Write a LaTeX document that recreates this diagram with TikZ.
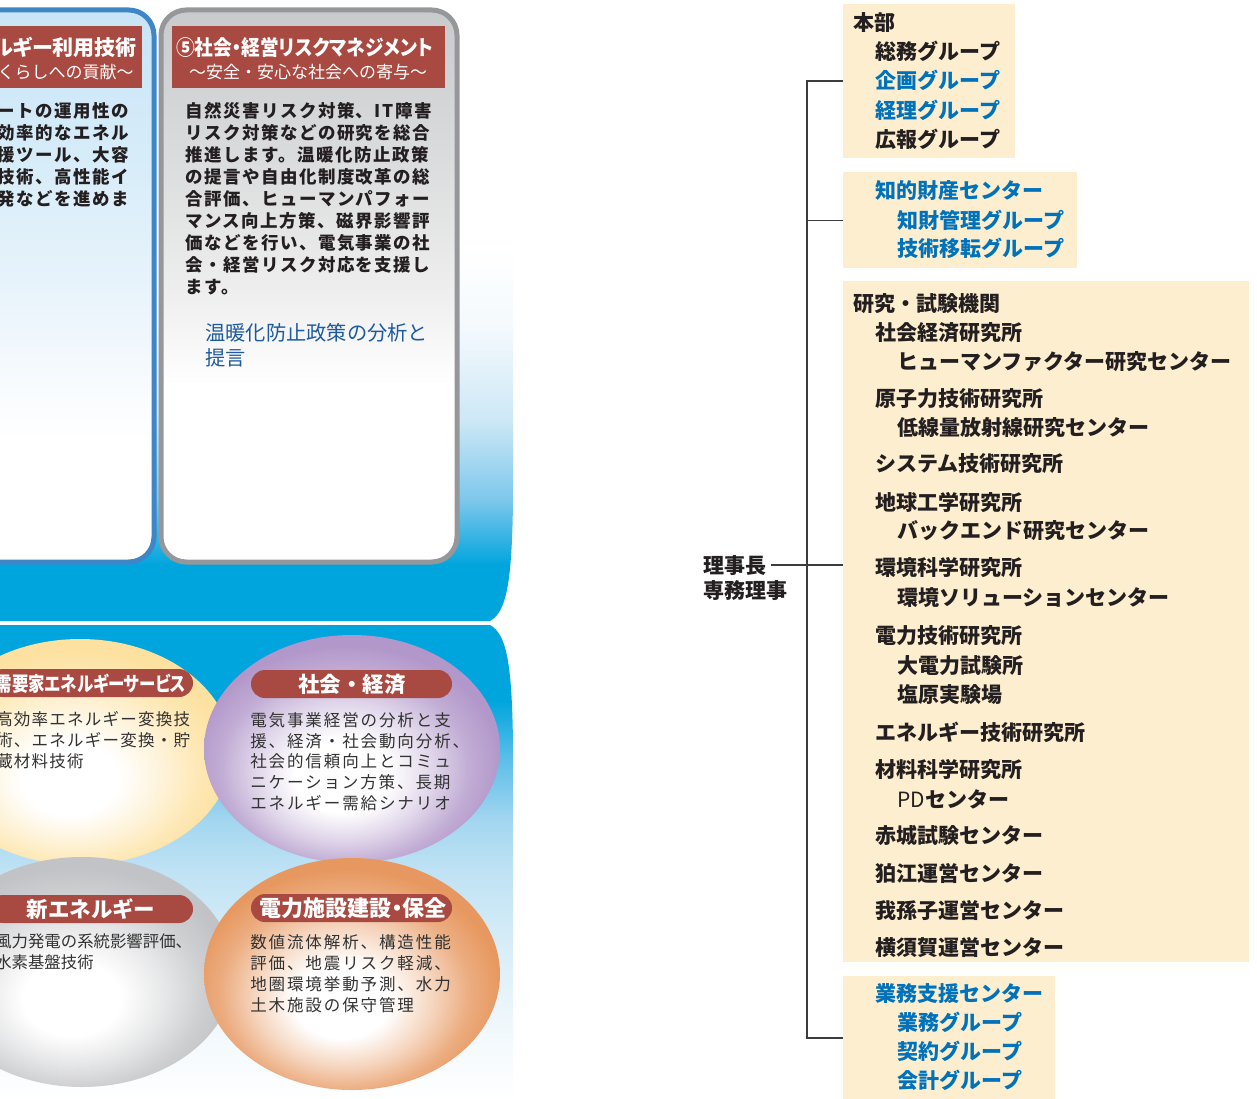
\documentclass[tikz,border=0pt]{standalone}
\usepackage{fontspec}
\newfontfamily\jp{Noto Sans CJK JP}
\newfontfamily\jpls{Noto Sans CJK JP}[LetterSpace=8.6]
\newfontfamily\jplsb{Noto Sans CJK JP}[LetterSpace=11.3]
\newfontfamily\jply{Noto Sans CJK JP}[LetterSpace=7.3]
\newfontfamily\jppalt{Noto Sans CJK JP}[RawFeature=+palt]
\newfontfamily\jpnarrow{Noto Sans CJK JP}[RawFeature=+palt,FakeStretch=0.89]
\newfontfamily\jpcond{Noto Sans CJK JP}[RawFeature=+palt,FakeStretch=0.82]

\definecolor{cyanb}{RGB}{0,165,221}
\definecolor{redband}{RGB}{168,74,65}
\definecolor{blueborder}{RGB}{62,134,197}
\definecolor{grayborder}{RGB}{150,151,154}
\definecolor{beige}{RGB}{253,238,207}
\definecolor{orgblue}{RGB}{0,114,188}
\definecolor{textdark}{RGB}{35,31,32}
\definecolor{bodytext}{RGB}{50,50,50}
\definecolor{bluetext}{RGB}{30,90,158}
\definecolor{purpedge}{RGB}{178,152,202}
\definecolor{yeledge}{RGB}{253,225,160}
\definecolor{grayedge}{RGB}{194,195,198}
\definecolor{oraedge}{RGB}{231,152,96}
\definecolor{connline}{RGB}{60,60,60}
\definecolor{ubA}{RGB}{124,199,236}
\definecolor{ubB}{RGB}{205,232,246}
\definecolor{ubC}{RGB}{243,249,253}
\definecolor{lbA}{RGB}{93,191,233}
\definecolor{lbB}{RGB}{163,214,240}
\definecolor{lbC}{RGB}{191,226,244}
\definecolor{lbD}{RGB}{217,238,248}
\definecolor{lbE}{RGB}{241,248,252}
\definecolor{gcA}{RGB}{201,202,204}
\definecolor{gcB}{RGB}{218,219,220}
\definecolor{gcC}{RGB}{239,239,239}
\definecolor{bcA}{RGB}{200,228,246}
\definecolor{bcB}{RGB}{214,236,249}
\definecolor{bcC}{RGB}{233,244,251}
\definecolor{bcD}{RGB}{248,251,254}

\pgfdeclareverticalshading{upband}{100bp}{color(0bp)=(cyanb); color(29.5bp)=(cyanb); color(34.7bp)=(ubA); color(41.2bp)=(ubB); color(48.4bp)=(ubC); color(55bp)=(white); color(100bp)=(white)}
\pgfdeclareverticalshading{lowband}{100bp}{color(0bp)=(white); color(25bp)=(white); color(32.3bp)=(lbE); color(40.7bp)=(lbD); color(49.2bp)=(lbC); color(54.4bp)=(lbB); color(60.8bp)=(lbA); color(67bp)=(cyanb); color(100bp)=(cyanb)}
\pgfdeclareverticalshading{graycard}{100bp}{color(0bp)=(white); color(41bp)=(white); color(49bp)=(gcC); color(62bp)=(gcB); color(75bp)=(gcA); color(100bp)=(gcA)}
\pgfdeclareverticalshading{bluecard}{100bp}{color(0bp)=(white); color(36bp)=(white); color(41bp)=(bcD); color(49bp)=(bcC); color(62bp)=(bcB); color(75bp)=(bcA); color(100bp)=(bcA)}
\pgfdeclareradialshading{purpsh}{\pgfpoint{-2bp}{-7bp}}{color(0bp)=(white); color(8bp)=(white); color(15bp)=(purpedge!40); color(21bp)=(purpedge!80); color(26bp)=(purpedge); color(50bp)=(purpedge)}
\pgfdeclareradialshading{yelsh}{\pgfpoint{-2bp}{-7bp}}{color(0bp)=(white); color(8bp)=(white); color(15bp)=(yeledge!40); color(21bp)=(yeledge!80); color(26bp)=(yeledge); color(50bp)=(yeledge)}
\pgfdeclareradialshading{graysh}{\pgfpoint{-2bp}{-7bp}}{color(0bp)=(white); color(8bp)=(white); color(15bp)=(grayedge!40); color(21bp)=(grayedge!80); color(26bp)=(grayedge); color(50bp)=(grayedge)}
\pgfdeclareradialshading{orash}{\pgfpoint{-2bp}{-7bp}}{color(0bp)=(white); color(8bp)=(white); color(15bp)=(oraedge!40); color(21bp)=(oraedge!80); color(26bp)=(oraedge); color(50bp)=(oraedge)}

\tikzset{
  orgt/.style={font=\jp\bfseries\fontsize{15.75pt}{15.75pt}\selectfont, inner sep=0pt},
  orgbox/.style={fill=beige, draw=none, inner sep=0pt, anchor=north west},
  conn/.style={draw=connline, line width=0.9pt},
  cardbody/.style={font=\jpls\bfseries\fontsize{13.1pt}{13.1pt}\selectfont, text=textdark, inner sep=0pt},
  bluenote/.style={font=\jp\fontsize{15.2pt}{15.2pt}\selectfont, text=bluetext, inner sep=0pt},
  hdr/.style={font=\jppalt\bfseries\fontsize{15.75pt}{15.75pt}\selectfont, text=white, inner sep=0pt},
  hdrsub/.style={font=\jp\fontsize{12.75pt}{12.75pt}\selectfont, text=white, inner sep=0pt},
  bub/.style={font=\jplsb\fontsize{12.4pt}{12.4pt}\selectfont, text=bodytext, inner sep=0pt},
  buby/.style={font=\jply\fontsize{12.4pt}{12.4pt}\selectfont, text=bodytext, inner sep=0pt},
  bubg/.style={font=\jp\fontsize{12.3pt}{12.3pt}\selectfont, text=bodytext, inner sep=0pt},
  pill/.style={fill=redband, rounded corners=10.5pt},
  pilltext/.style={font=\jp\bfseries\fontsize{16.1pt}{16.1pt}\selectfont, text=white, inner sep=0pt},
}
\newcommand\ot[5]{\node[orgt, text=#4, anchor=base west] (#1) at (#2,#3+8) {#5};}

\begin{document}
\begin{tikzpicture}[x=0.75pt,y=-0.75pt]
\useasboundingbox (0,0) rectangle (1257,1099);
\fill[white] (0,0) rectangle (1257,1099);

% background bands
\shade[shading=upband] (-20,0) -- (513,0) -- (513,500) .. controls (512,585) and (506,612) .. (490,621) -- (-20,621) -- cycle;
\shade[shading=lowband] (-20,625) -- (490,625) .. controls (506,634) and (512,660) .. (513,745) -- (513,1099) -- (-20,1099) -- cycle;

% cards
\shadedraw[shading=bluecard, draw=blueborder, line width=3.75pt, rounded corners=19pt] (-40,10) rectangle (154,562);
\shadedraw[shading=graycard, draw=grayborder, line width=3.75pt, rounded corners=19pt] (161,10) rectangle (457,562);
\fill[redband] (-40,26) rectangle (142,88);
\fill[redband] (172,26) rectangle (445,88);

\node[hdr, anchor=base east] (h4a) at (137,56) {ルギー利用技術};
\node[hdrsub, anchor=base east] (h4b) at (134,78.5) {くらしへの貢献～};
\node[hdr, font=\jpnarrow\bfseries\fontsize{15.75pt}{15.75pt}\selectfont, anchor=base] (h5a) at (304.5,56) {⑤社会・経営リスクマネジメント};
\node[hdrsub, anchor=base] (h5b) at (308,78.5) {～安全・安心な社会への寄与～};

\foreach \t [count=\i from 0] in {ートの運用性の, 効率的なエネル, 援ツール、大容, 技術、高性能イ, 発などを進めま}
  \node[cardbody, anchor=base east] (b\i) at (129,117.6+22*\i) {\t};
\foreach \t [count=\i from 0] in {自然災害リスク対策、IT障害, リスク対策などの研究を総合, 推進します。温暖化防止政策, の提言や自由化制度改革の総, 合評価、ヒューマンパフォー, マンス向上方策、磁界影響評, 価などを行い、電気事業の社, 会・経営リスク対応を支援し, ます。}
  \node[cardbody, anchor=base west] (g\i) at (185,117.6+22*\i) {\t};
\node[bluenote, anchor=base west] (n1) at (205,340.7) {温暖化防止政策の分析と};
\node[bluenote, anchor=base west] (n2) at (205,365.7) {提言};

% bubbles
\shade[shading=yelsh] (80,752) ellipse [x radius=152, y radius=113];
\shade[shading=graysh] (82,972) ellipse [x radius=152, y radius=115];
\shade[shading=purpsh] (352,749) ellipse [x radius=148, y radius=114];
\shade[shading=orash] (352,974) ellipse [x radius=148, y radius=116];

\fill[pill] (-11,669) rectangle (193,697);
\fill[pill] (-11,895) rectangle (193,923);
\fill[pill] (251,670) rectangle (452,698);
\fill[pill] (251,894) rectangle (452,922);

\node[pilltext, font=\jpcond\bfseries\fontsize{15pt}{15pt}\selectfont, anchor=base] (t1) at (91,691) {需要家エネルギーサービス};
\node[pilltext, anchor=base] (t2) at (91,917) {新エネルギー};
\node[pilltext, anchor=base] (t3) at (352,692) {社会・経済};
\node[pilltext, font=\jppalt\bfseries\fontsize{16.5pt}{16.5pt}\selectfont, anchor=base] (t4) at (353,916) {電力施設建設・保全};

\foreach \t [count=\i from 0] in {高効率エネルギー変換技, 術、エネルギー変換・貯, 蔵材料技術}
  \node[buby, anchor=base west] (y\i) at (-4,725.3+21*\i) {\t};
\foreach \t [count=\i from 0] in {風力発電の系統影響評価、, 水素基盤技術}
  \node[bubg, anchor=base west] (s\i) at (-5,947.3+21*\i) {\t};
\foreach \t [count=\i from 0] in {電気事業経営の分析と支, 援、経済・社会動向分析、, 社会的信頼向上とコミュ, ニケーション方策、長期, エネルギー需給シナリオ}
  \node[bub, anchor=base west] (p\i) at (250,726.3+20.8*\i) {\t};
\foreach \t [count=\i from 0] in {数値流体解析、構造性能, 評価、地震リスク軽減、, 地圏環境挙動予測、水力, 土木施設の保守管理}
  \node[bub, anchor=base west] (o\i) at (250,948.3+21*\i) {\t};

% organisation chart
\node[orgbox, minimum width=129pt, minimum height=115.5pt] (box1) at (843,4) {};
\node[orgbox, minimum width=175.5pt, minimum height=72pt] (box2) at (843,172) {};
\node[orgbox, minimum width=304.5pt, minimum height=510.75pt] (box3) at (843,281) {};
\node[orgbox, minimum width=159pt, minimum height=96.75pt] (box4) at (843,976) {};

\node[orgt, text=textdark, anchor=base west, inner xsep=0pt] (chair) at (703,573) {理事長};
\node[orgt, text=textdark, anchor=base west] (vice) at (703,598) {専務理事};

\coordinate (tt) at (807,81);
\coordinate (tb) at (807,1038);
\draw[conn] (box1.west |- tt) -- (tt) -- (tb) -- (box4.west |- tb);
\draw[conn] (box2.west) -- (box2.west -| tt);
\draw[conn] ([xshift=3pt]chair.east) -- (box3.west |- chair.east);

\ot{a1}{853}{23}{textdark}{本部}
\ot{a2}{875}{52}{textdark}{総務グループ}
\ot{a3}{875}{81}{orgblue}{企画グループ}
\ot{a4}{875}{110}{orgblue}{経理グループ}
\ot{a5}{875}{139}{textdark}{広報グループ}
\ot{c1}{875}{190}{orgblue}{知的財産センター}
\ot{c2}{897}{220}{orgblue}{知財管理グループ}
\ot{c3}{897}{248}{orgblue}{技術移転グループ}
\ot{r0}{853}{303}{textdark}{研究・試験機関}
\ot{r1}{875}{332}{textdark}{社会経済研究所}
\ot{r2}{897}{361}{textdark}{ヒューマンファクター研究センター}
\ot{r3}{875}{398}{textdark}{原子力技術研究所}
\ot{r4}{897}{427}{textdark}{低線量放射線研究センター}
\ot{r5}{875}{463}{textdark}{システム技術研究所}
\ot{r6}{875}{502}{textdark}{地球工学研究所}
\ot{r7}{897}{530}{textdark}{バックエンド研究センター}
\ot{r8}{875}{567}{textdark}{環境科学研究所}
\ot{r9}{897}{597}{textdark}{環境ソリューションセンター}
\ot{r10}{875}{635}{textdark}{電力技術研究所}
\ot{r11}{897}{665}{textdark}{大電力試験所}
\ot{r12}{897}{694}{textdark}{塩原実験場}
\ot{r13}{875}{732}{textdark}{エネルギー技術研究所}
\ot{r14}{875}{769}{textdark}{材料科学研究所}
\ot{r15}{897}{799}{textdark}{{\mdseries PD}センター}
\ot{r16}{875}{835}{textdark}{赤城試験センター}
\ot{r17}{875}{873}{textdark}{狛江運営センター}
\ot{r18}{875}{910}{textdark}{我孫子運営センター}
\ot{r19}{875}{947}{textdark}{横須賀運営センター}
\ot{d1}{875}{993}{orgblue}{業務支援センター}
\ot{d2}{897}{1022}{orgblue}{業務グループ}
\ot{d3}{897}{1051}{orgblue}{契約グループ}
\ot{d4}{897}{1080}{orgblue}{会計グループ}
\end{tikzpicture}
\end{document}
